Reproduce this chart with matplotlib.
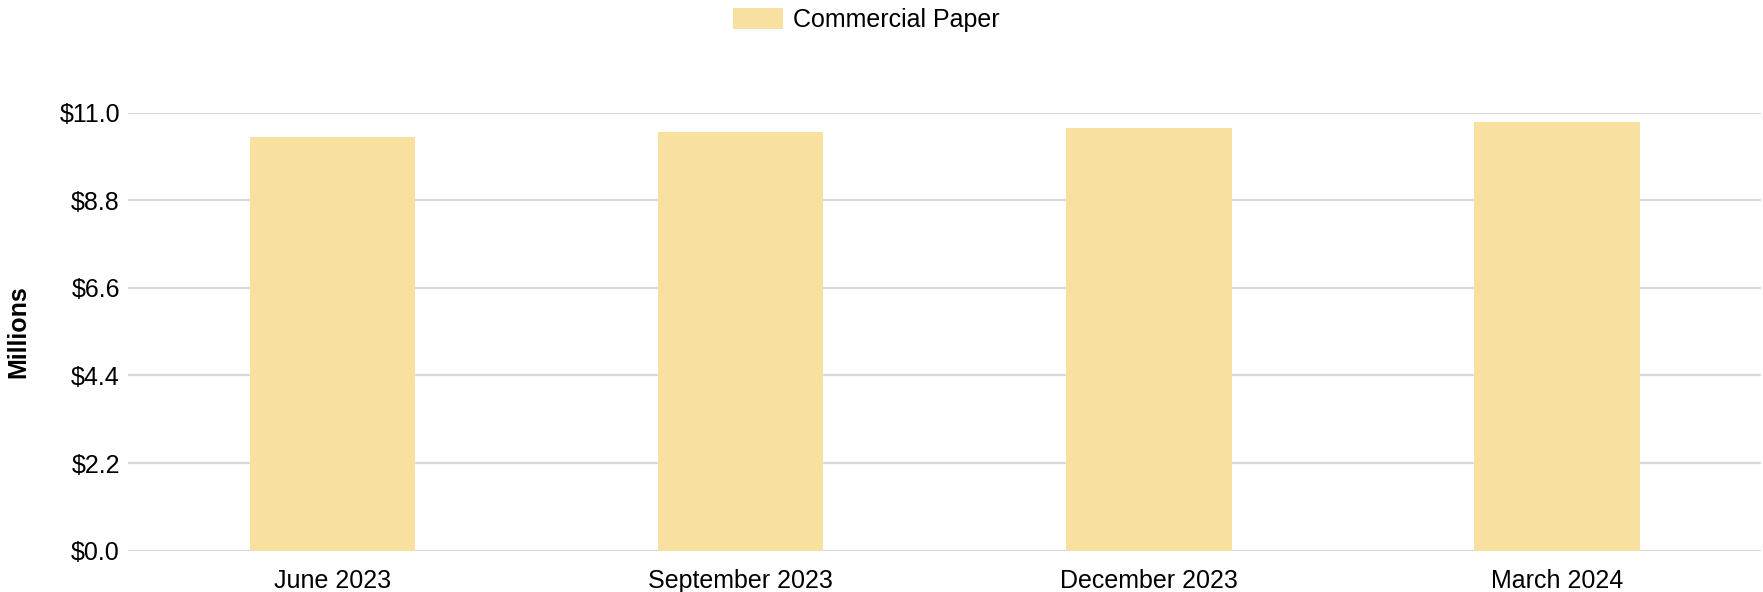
import numpy as np
import matplotlib
matplotlib.use('Agg')
import matplotlib.pyplot as plt
from matplotlib.ticker import FuncFormatter

plt.rcParams['font.family'] = ['Liberation Sans', 'DejaVu Sans']

# Data
quarters = ['June 2023', 'September 2023', 'December 2023', 'March 2024']
commercial_paper = [10.40, 10.51, 10.61, 10.76]
yticks = [0.0, 2.2, 4.4, 6.6, 8.8, 11.0]

bar_color = '#F8E0A0'
grid_color = '#D9D9D9'

fig = plt.figure(figsize=(17.63, 5.92), dpi=100)
ax = fig.add_axes([0.0728, 0.0698, 0.9262, 0.7398])

x = np.arange(len(quarters))
ax.bar(x, commercial_paper, width=0.405, color=bar_color,
       label='Commercial Paper', zorder=2)

ax.set_xlim(-0.5, len(quarters) - 0.5)
ax.set_ylim(0, 11.0)
ax.set_yticks(yticks)
ax.yaxis.set_major_formatter(FuncFormatter(lambda v, p: '${:.1f}'.format(v)))
ax.set_xticks(x)
ax.set_xticklabels(quarters)

ax.grid(axis='y', color=grid_color, linewidth=1.6, zorder=0)
ax.set_axisbelow(True)
for s in ax.spines.values():
    s.set_visible(False)
ax.tick_params(axis='both', length=0, labelsize=18, colors='#000000')
ax.tick_params(axis='y', pad=6)
ax.tick_params(axis='x', pad=13)

ax.set_ylabel('Millions', fontsize=18, fontweight='bold', labelpad=21)

fig.legend(loc='upper center', bbox_to_anchor=(0.4915, 1.004), ncol=1,
           frameon=False, fontsize=18, handlelength=2.0, handleheight=0.96,
           handletextpad=0.4, borderaxespad=0.0)

fig.savefig('out.png', dpi=100)
